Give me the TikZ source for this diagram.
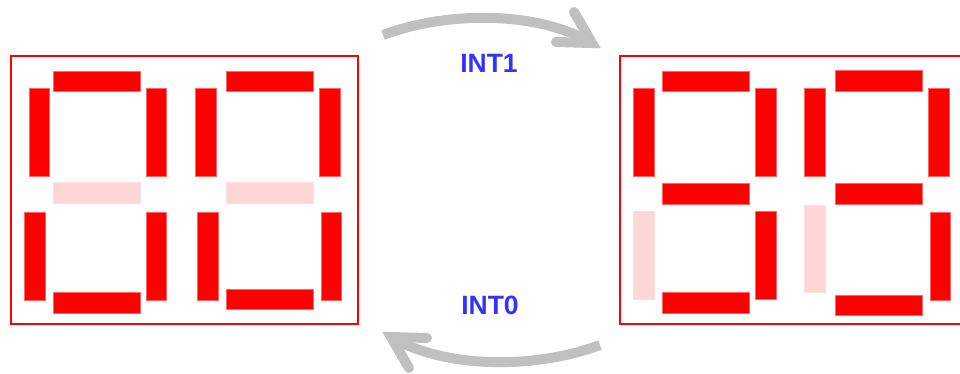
\documentclass[tikz,border=0pt]{standalone}
\usepackage{fontspec}
\setmainfont{Liberation Sans}
\begin{document}
\begin{tikzpicture}[x=1pt,y=-1pt,
  segon/.style={fill=segred,draw=segred!60!white,line width=0.4pt},
  segoff/.style={fill=segpale,draw=segpale!80!white,line width=0.4pt},
  frame/.style={draw=segred,line width=1.5pt},
  flow/.style={draw=arrgray,line width=10pt},
  flowhead/.style={draw=arrgray,line width=10pt,line cap=round,line join=miter},
  lbl/.style={text=lblblue,font=\fontsize{26.5}{30}\selectfont\bfseries,inner sep=0pt}]
\definecolor{segred}{RGB}{255,0,0}
\definecolor{segpale}{RGB}{255,214,214}
\definecolor{arrgray}{RGB}{192,192,192}
\definecolor{lblblue}{RGB}{51,51,255}
\useasboundingbox (0,0) rectangle (960,374);
\begin{scope}
\clip (0,0) rectangle (960,374);
% frames
\draw[frame] (11,56) rectangle (358,324);
\draw[frame] (620,56) rectangle (975,324);
% left digit A
\draw[segon] (53,71) rectangle (140,91);
\draw[segon] (29,88) rectangle (49,176);
\draw[segon] (146,88) rectangle (166,176);
\draw[segoff] (53,182) rectangle (140,203);
\draw[segon] (24,212) rectangle (45,300);
\draw[segon] (146,212) rectangle (166,300);
\draw[segon] (53,292) rectangle (140,313);
% left digit B
\draw[segon] (226,71) rectangle (313,91);
\draw[segon] (195,88) rectangle (216,176);
\draw[segon] (319,88) rectangle (340,176);
\draw[segoff] (226,182) rectangle (313,203);
\draw[segon] (197,212) rectangle (218,300);
\draw[segon] (321,212) rectangle (341,300);
\draw[segon] (226,289) rectangle (313,309);
% right digit C
\draw[segon] (662,71) rectangle (749,91);
\draw[segon] (633,88) rectangle (654,176);
\draw[segon] (755,88) rectangle (776,176);
\draw[segon] (662,183) rectangle (749,204);
\draw[segoff] (633,211) rectangle (654,299);
\draw[segon] (755,211) rectangle (776,299);
\draw[segon] (662,292) rectangle (749,313);
% right digit D
\draw[segon] (835,70) rectangle (922,91);
\draw[segon] (804,88) rectangle (825,176);
\draw[segon] (928,88) rectangle (949,176);
\draw[segon] (835,183) rectangle (922,204);
\draw[segoff] (804,205) rectangle (825,292);
\draw[segon] (930,212) rectangle (950,300);
\draw[segon] (835,295) rectangle (922,315);
% arrows
\coordinate (t0) at (383,35);
\coordinate (t1) at (592,43);
\coordinate (ta) at (574,12);
\coordinate (tb) at (556,42);
\draw[flow] (t0) .. controls (450,10) and (540,12) .. (t1);
\draw[flowhead] (ta) -- (t1) -- (tb);
\coordinate (b0) at (600,345);
\coordinate (b1) at (391,337);
\coordinate (ba) at (409,368);
\coordinate (bb) at (427,338);
\draw[flow] (b0) .. controls (533,370) and (443,368) .. (b1);
\draw[flowhead] (ba) -- (b1) -- (bb);
\end{scope}
\node[lbl] (int1) at (489,63) {INT1};
\node[lbl] (int0) at (490,305) {INT0};
\end{tikzpicture}
\end{document}
